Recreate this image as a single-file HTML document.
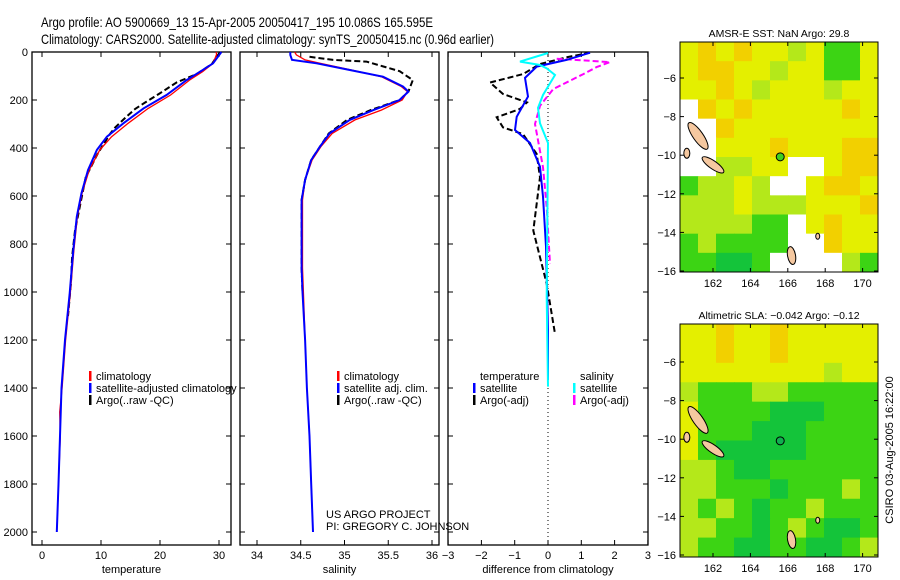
<!DOCTYPE html>
<html><head><meta charset="utf-8"><style>
body{margin:0;background:#fff;}
svg{display:block;font-family:"Liberation Sans",sans-serif;}
</style></head><body>
<svg id="c" width="900" height="580" viewBox="0 0 900 580" xmlns="http://www.w3.org/2000/svg">
<rect width="900" height="580" fill="#fff"/>
<g>
<text x="41" y="27" font-size="14" textLength="392" lengthAdjust="spacingAndGlyphs">Argo profile: AO 5900669_13 15-Apr-2005 20050417_195 10.086S 165.595E</text>
<text x="41" y="44" font-size="14" textLength="453" lengthAdjust="spacingAndGlyphs">Climatology: CARS2000. Satellite-adjusted climatology: synTS_20050415.nc (0.96d earlier)</text>
</g>
<g id="p1"></g>
<g id="p2"></g>
<g id="p3"></g>
<g id="m1"></g>
<g id="m2"></g>
<text x="326" y="518" font-size="11">US ARGO PROJECT</text>
<text x="326" y="530" font-size="11">PI: GREGORY C. JOHNSON</text>
<text transform="translate(893,450) rotate(-90)" font-size="11" text-anchor="middle">CSIRO 03-Aug-2005 16:22:00</text>
</svg>
<script>
// ---- data ----
const depthTicks=[0,200,400,600,800,1000,1200,1400,1600,1800,2000];
const tempTicks=[0,10,20,30];
const salTicks=[34,34.5,35,35.5,36];
const diffTicks=[-3,-2,-1,0,1,2,3];
const tClimDepth=[0,10,47,82,117,179,235,297,353,408,492,588,686,825,1005,1200,1400,1500,1600,1800,2000];
const tClim=[29.5,29.6,29.0,27.2,25.0,21.8,18.0,14.6,11.8,9.8,8.0,6.8,6.0,5.4,4.8,4.0,3.4,3.0,3.1,2.8,2.5];
const tSatDepth=[0,47,82,117,179,235,297,353,408,492,588,686,825,1005,1200,1400,1600,1800,2000];
const tSat=[30.4,29.0,26.8,24.5,21.1,17.2,13.8,11.0,9.3,7.8,6.7,5.9,5.3,4.7,3.9,3.3,3.05,2.8,2.5];
const tArgoDepth=[0,20,50,92,127,175,210,237,272,314,342,425,522,744,855,966,1100];
const tArgo=[30.2,29.6,28.8,26.2,22.8,19.8,17.5,15.8,14.2,12.4,11.5,9.4,7.4,5.6,5.1,4.9,4.4];
const sDepth=[0,12,33,47,75,103,144,165,200,242,283,339,394,450,533,617,900,1000,1200,1400,1600,1800,2000];
const sSat=[34.38,34.38,34.40,34.68,35.06,35.44,35.67,35.73,35.63,35.33,35.06,34.83,34.72,34.62,34.55,34.51,34.51,34.52,34.55,34.57,34.60,34.62,34.64];
const sClim=[34.43,34.45,34.55,34.72,35.08,35.42,35.65,35.72,35.66,35.42,35.12,34.86,34.73,34.63,34.55,34.52,34.52,34.53,34.55,34.57,34.60,34.62,34.64];
const sArgoDepth=[20,33,40,80,117,165,200,242,283,339,394,450,533,617,900,1000];
const sArgo=[34.6,34.87,35.25,35.63,35.78,35.73,35.63,35.30,35.03,34.82,34.72,34.62,34.55,34.51,34.51,34.52];
const dTSatDepth=[3,33,61,108,186,270,325,379,478,603,811,1158,1367];
const dTSat=[1.26,0.56,-0.34,-0.69,-0.6,-0.94,-0.99,-0.54,-0.24,-0.15,-0.06,0,0];
const dSSatDepth=[4,40,54,68,96,179,233,297,379,1019,1394];
const dSSat=[0,-0.84,-0.24,-0.04,0.21,-0.15,-0.3,-0.24,0,-0.04,0];
const dTArgoDepth=[3,21,50,92,127,175,210,237,272,314,342,425,522,744,855,966,1174];
const dTArgo=[1.26,0.6,-0.24,-0.75,-1.74,-1.35,-0.63,-0.84,-1.54,-1.35,-0.75,-0.34,-0.24,-0.44,-0.24,-0.04,0.21];
const dSArgoDepth=[28,42,63,92,154,224,300,480,647,883];
const dSArgo=[0.26,1.86,1.46,1.06,0.16,-0.24,-0.39,-0.15,-0.04,0.06];
// map grids (lon 160.5..170.8, lat -4.1..-16.1)
const sstGrid=["YOYOYYLYGGY","YOOYYLYYGGY","YYOYLYYYLYY","WOYOYYYYYOY","WWOYYYYYYYY","WWYYYOYYYOO","WWLLYYWWYOO","GLLYLWWYOOY","LLLYLLLYYYO","LLLLGGWYOYY","GLGGGGWWOYY","GGDDGWWWWLG"];
const slaGrid=["YYOYYOYYYYY","YYOYYOYYYYY","YYYYYYYYLYY","LGGGLLGGGGG","YGGGGDDDGGG","YGGGDDDGGGG","YGDDDDDGGGG","LLGDDGGGGGG","LLGGGDGGGLG","LGLGDGGLGGG","LLGGDGLGDDG","LGGDDGGDDGL"];
const argoLon=165.595, argoLat=-10.086;

const NS="http://www.w3.org/2000/svg";
function mk(p,tag,at,txt){const e=document.createElementNS(NS,tag);for(const k in at)e.setAttribute(k,at[k]);if(txt!==undefined)e.textContent=txt;p.appendChild(e);return e;}
const Y0=52,YB=545,yS=d=>52+d*0.24;

function panel(g,x0,x1,xs,ticks,fmt,title,leftLabels){
  mk(g,'rect',{x:x0,y:Y0,width:x1-x0,height:YB-Y0,fill:'none',stroke:'#000','stroke-width':1.3});
  ticks.forEach(t=>{const x=xs(t);
    mk(g,'line',{x1:x,x2:x,y1:YB,y2:YB-5,stroke:'#000'});mk(g,'line',{x1:x,x2:x,y1:Y0,y2:Y0+5,stroke:'#000'});
    const l=mk(g,'text',{x:x,y:YB+14,'font-size':11,'text-anchor':'middle'},fmt(t));
    
    
  });
  depthTicks.forEach(d=>{const y=yS(d);
    mk(g,'line',{x1:x0,x2:x0+5,y1:y,y2:y,stroke:'#000'});mk(g,'line',{x1:x1,x2:x1-5,y1:y,y2:y,stroke:'#000'});
    if(leftLabels){const l=mk(g,'text',{x:x0-4,y:y+4,'font-size':11,'text-anchor':'end'},d);
      
      }
  });
  const t=mk(g,'text',{x:(x0+x1)/2,y:YB+28,'font-size':11,'text-anchor':'middle'},title);
  
  
}
function line(g,xs,vals,depths,col,w,dash,name){
  const d=vals.map((v,i)=>(i?'L':'M')+xs(v).toFixed(1)+','+yS(depths[i]).toFixed(1)).join('');
  const p=mk(g,'path',{d:d,fill:'none',stroke:col,'stroke-width':w,'stroke-dasharray':dash||'none'});
  
  
}
function legend(g,x,y,items){
  items.forEach((it,i)=>{
    if(it[0])mk(g,'rect',{x:x,y:y+i*12-5,width:2.5,height:10,fill:it[0]});
    const t=mk(g,'text',{x:x+7,y:y+i*12+4,'font-size':11},it[1]);
    
    
  });
}
// panel 1
const p1=document.getElementById('p1');const xT=v=>42+v*5.9;
panel(p1,32,231,xT,tempTicks,t=>t,'temperature',true);
line(p1,xT,tArgo,tArgoDepth,'#000',2,'6,3','argo-temperature-line');
line(p1,xT,tClim,tClimDepth,'#f00',1.3,null,'climatology-temperature-line');
line(p1,xT,tSat,tSatDepth,'#00f',2,null,'satellite-temperature-line');
legend(p1,89,376,[['#f00','climatology'],['#00f','satellite-adjusted climatology'],['#000','Argo(..raw -QC)']]);
// panel 2
const p2=document.getElementById('p2');const xS=v=>257+(v-34)*87.5;
panel(p2,240,439,xS,salTicks,t=>t,'salinity',false);
line(p2,xS,sArgo,sArgoDepth,'#000',2,'6,3','argo-salinity-line');
line(p2,xS,sClim,sDepth,'#f00',1.3,null,'climatology-salinity-line');
line(p2,xS,sSat,sDepth,'#00f',2,null,'satellite-salinity-line');
legend(p2,337,376,[['#f00','climatology'],['#00f','satellite adj. clim.'],['#000','Argo(..raw -QC)']]);
// panel 3
const p3=document.getElementById('p3');const xD=v=>548+v*33.3;
panel(p3,448,648,xD,diffTicks,t=>t<0?'\u2212'+(-t):t,'difference from climatology',false);
mk(p3,'line',{x1:xD(0),x2:xD(0),y1:Y0,y2:YB,stroke:'#000','stroke-dasharray':'1,3'});
line(p3,xD,dTArgo,dTArgoDepth,'#000',2,'6,3','argo-temperature-diff-line');
line(p3,xD,dSArgo,dSArgoDepth,'#f0f',2,'6,3','argo-salinity-diff-line');
line(p3,xD,dTSat,dTSatDepth,'#00f',2,null,'satellite-temperature-diff-line');
line(p3,xD,dSSat,dSSatDepth,'#0ff',2,null,'satellite-salinity-diff-line');
legend(p3,473,376,[[null,'temperature'],['#00f','satellite'],['#000','Argo(-adj)']]);
legend(p3,573,376,[[null,'salinity'],['#0ff','satellite'],['#f0f','Argo(-adj)']]);
// maps
const pal={Y:'#e4ef00',O:'#f2d000',L:'#b4e81a',G:'#3cd414',D:'#14c43a',T:'#20b070',W:'#ffffff'};
function map(g,top,bot,grid,title){
  const x0=680,x1=878,lon=v=>713+(v-162)*18.7;
  const latY=top===42?(v=>78+(-6-v)*19.3):(v=>362+(-6-v)*19.3);
  const cw=(x1-x0)/11,ch=(bot-top)/12;
  grid.forEach((row,r)=>row.split('').forEach((c,k)=>{
    const e=mk(g,'rect',{x:x0+k*cw,y:top+r*ch,width:cw+0.5,height:ch+0.5,fill:pal[c]});
    
    
  }));
  // islands
  [[161.2,-9.0,5,16,-35],[162.0,-10.5,4,13,-55],[166.2,-15.2,4,9,-10],[160.6,-9.9,3,5,0],[167.6,-14.2,2,3,0]].forEach(s=>{
    const e=mk(g,'ellipse',{cx:lon(s[0]),cy:latY(s[1]),rx:s[2],ry:s[3],transform:`rotate(${s[4]} ${lon(s[0])} ${latY(s[1])})`,fill:'#f5c8a0',stroke:'#000','stroke-width':1});
    
    
  });
  const m=mk(g,'circle',{cx:lon(argoLon),cy:latY(argoLat),r:4,fill:top===42?'#40d020':'#10b050',stroke:'#000'});
  
  
  mk(g,'rect',{x:x0,y:top,width:x1-x0,height:bot-top,fill:'none',stroke:'#000'});
  [162,164,166,168,170].forEach(v=>{const x=lon(v);
    mk(g,'line',{x1:x,x2:x,y1:bot,y2:bot-4,stroke:'#000'});mk(g,'line',{x1:x,x2:x,y1:top,y2:top+4,stroke:'#000'});
    const t=mk(g,'text',{x:x,y:bot+15,'font-size':11,'text-anchor':'middle'},v);
    
    });
  [-6,-8,-10,-12,-14,-16].forEach(v=>{const y=latY(v);
    mk(g,'line',{x1:x0,x2:x0+4,y1:y,y2:y,stroke:'#000'});mk(g,'line',{x1:x1,x2:x1-4,y1:y,y2:y,stroke:'#000'});
    const t=mk(g,'text',{x:x0-4,y:y+4,'font-size':11,'text-anchor':'end'},'\u2212'+(-v));
    
    });
  const t=mk(g,'text',{x:(x0+x1)/2,y:top-5,'font-size':10.5,'text-anchor':'middle'},title);
  
  
}
map(document.getElementById('m1'),42,272,sstGrid,'AMSR-E SST: NaN Argo: 29.8');
map(document.getElementById('m2'),324,557,slaGrid,'Altimetric SLA: \u22120.042 Argo: \u22120.12');
</script>
</body></html>
